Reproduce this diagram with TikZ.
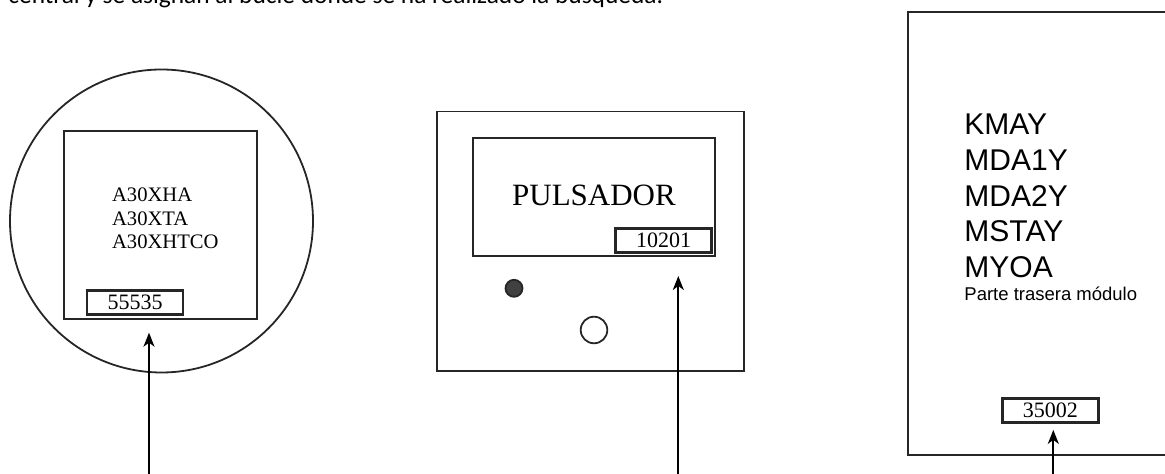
\documentclass[tikz,border=0pt]{standalone}
\usepackage{fontspec}
\setmainfont{Liberation Serif}
\setsansfont{Liberation Sans}
\newfontfamily\calibri{Carlito}
\usetikzlibrary{arrows.meta}

\begin{document}
\begin{tikzpicture}[
    x=0.5pt, y=-0.5pt,
    outline/.style={
        draw=black!85,
        line width=0.9pt,
        inner sep=0pt
    },
    codebox/.style={
        draw=black!85,
        line width=1.4pt,
        inner sep=0pt,
        minimum width=48pt,
        minimum height=12pt,
        font=\fontsize{11}{13}\selectfont
    },
    tag/.style={
        font=\sffamily\fontsize{15}{18}\selectfont,
        anchor=base west,
        inner sep=0pt
    },
    pointer/.style={
        line width=1pt,
        -{Stealth[length=7pt, width=5.5pt, inset=2pt]}
    }
]

\useasboundingbox (0,0) rectangle (1165,474);

% Caption line, cut at the top
\node[anchor=base west, inner sep=0pt, font=\calibri\fontsize{12.7}{15}\selectfont] (caption) at (8,4) {central y se asignan al bucle donde se ha realizado la búsqueda.};

% LEFT - Round detector
\node[outline, circle, minimum size=151.5pt] (dial) at (161.5,221) {};
\node[outline, minimum width=96.2pt, minimum height=94.2pt] (dialface) at (160.5,225.2) {};
\foreach \txt [count=\i] in {A30XHA, A30XTA, A30XHTCO}
    \node[font=\fontsize{10.3}{12}\selectfont, anchor=base west, inner sep=0pt] (dialtxt\i) at (111.7, 178.1+23.6*\i) {\txt};
\node[codebox] (codeA) at (135,302.5) {55535};

% MIDDLE - Push button
\node[outline, minimum width=153.7pt, minimum height=129.7pt] (button) at (590.3,241.3) {};
\node[outline, minimum width=121.2pt, minimum height=58.7pt] (buttonpanel) at (593.8,197) {};
\node[font=\fontsize{15.5}{18}\selectfont, inner sep=0pt] (buttontxt) at (594,195) {PULSADOR};
\node[codebox] (codeB) at (663.7,240.3) {10201};
\node[outline, circle, fill=black!75, minimum size=8.5pt] (led) at (514,288.3) {};
\node[outline, circle, minimum size=13.3pt] (knob) at (594,330) {};

% RIGHT - Module, seen from the back
\node[outline, minimum width=145.9pt, minimum height=221.7pt] (module) at (1054.2,233.4) {};
\foreach \txt [count=\i] in {KMAY, MDA1Y, MDA2Y, MSTAY, MYOA}
    \node[tag] (modtxt\i) at (964, 99.4+35.6*\i) {\txt};
\node[tag, font=\sffamily\fontsize{9.25}{11}\selectfont] (modnote) at (964,301) {Parte trasera módulo};
\node[codebox] (codeC) at (1050.3,410.5) {35002};

% Arrows from below
\coordinate (footA) at (149,474);
\coordinate (footB) at (678.3,474);
\coordinate (footC) at (1053.3,474);
\draw[pointer, shorten >=6.2pt] (footA) -- (footA |- dialface.south);
\draw[pointer, shorten >=9.7pt] (footB) -- (footB |- buttonpanel.south);
\draw[pointer, shorten >=3pt] (footC) -- (footC |- codeC.south);

\end{tikzpicture}
\end{document}
